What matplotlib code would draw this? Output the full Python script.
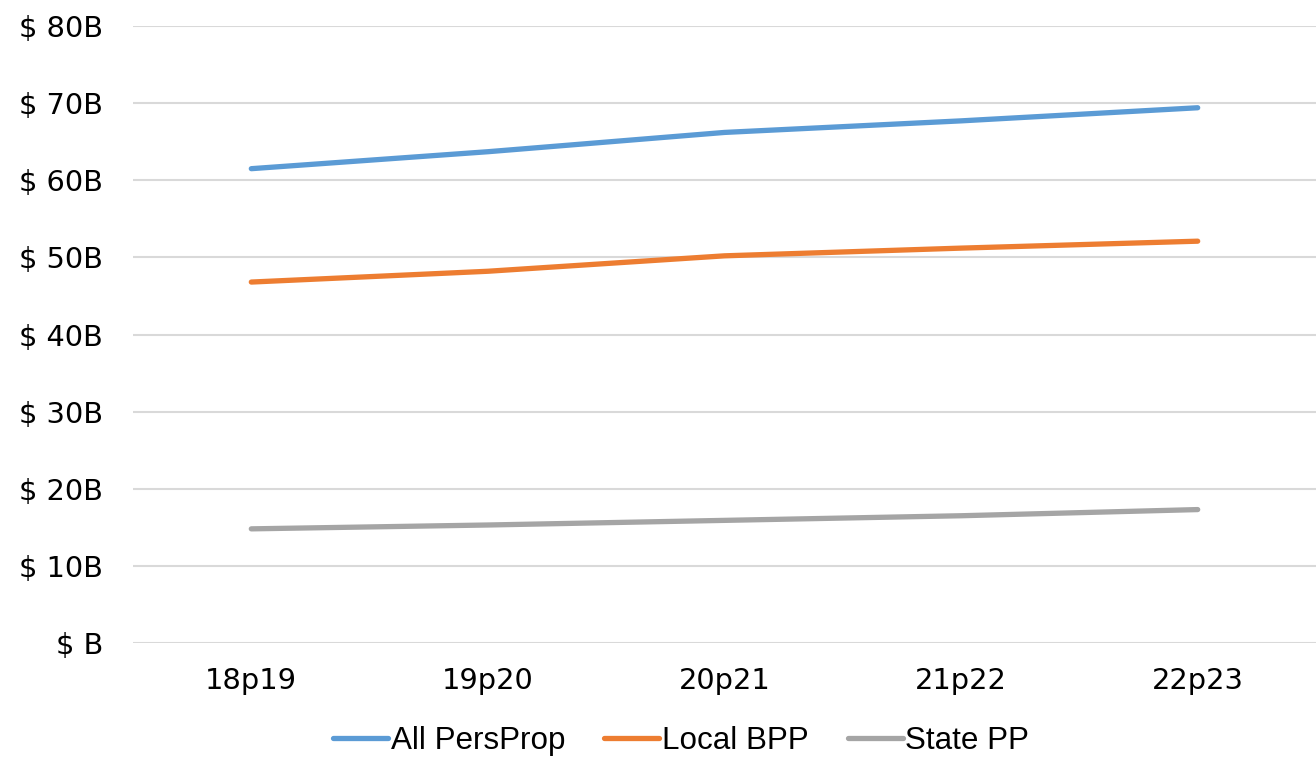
import matplotlib
matplotlib.use("Agg")
import matplotlib.pyplot as plt
from matplotlib.ticker import FuncFormatter

categories = ["18p19", "19p20", "20p21", "21p22", "22p23"]
all_persprop = [61.5, 63.7, 66.2, 67.7, 69.4]
local_bpp = [46.8, 48.2, 50.2, 51.2, 52.1]
state_pp = [14.8, 15.3, 15.9, 16.5, 17.3]
series_names = ["All PersProp", "Local BPP", "State PP"]
colors = ["#5B9BD5", "#ED7D31", "#A5A5A5"]

plt.rcParams['font.family'] = ['DejaVu Sans']

fig = plt.figure(figsize=(13.16, 7.58), dpi=100)
ax = fig.add_axes([133/1316, 1-643/758, (1316-133)/1316, (643-26)/758])

x = list(range(len(categories)))
for vals, name, c in zip([all_persprop, local_bpp, state_pp], series_names, colors):
    ax.plot(x, vals, color=c, linewidth=3.8, label=name, solid_capstyle='round')

ax.set_xlim(-0.5, len(categories) - 0.5)
ax.set_ylim(0, 80)
ax.set_yticks(range(0, 81, 10))
ax.yaxis.set_major_formatter(FuncFormatter(lambda v, p: "$ B" if v == 0 else f"$ {int(v)}B"))
ax.set_xticks(x)
ax.set_xticklabels(categories)
ax.tick_params(axis='both', length=0, labelsize=20.8, colors='black')
ax.tick_params(axis='y', pad=21.5)
ax.tick_params(axis='x', pad=17.5)
ax.grid(axis='y', color='#D9D9D9', linewidth=1.5)
ax.set_axisbelow(True)
for s in ax.spines.values():
    s.set_visible(False)

leg = fig.legend(loc='center', bbox_to_anchor=(681/1316, 1-741/758), ncol=3, frameon=False,
                 prop={'family': 'Liberation Sans', 'size': 22.6},
                 handlelength=1.75, handletextpad=0.08, columnspacing=1.25)

fig.savefig("out.png", dpi=100)
